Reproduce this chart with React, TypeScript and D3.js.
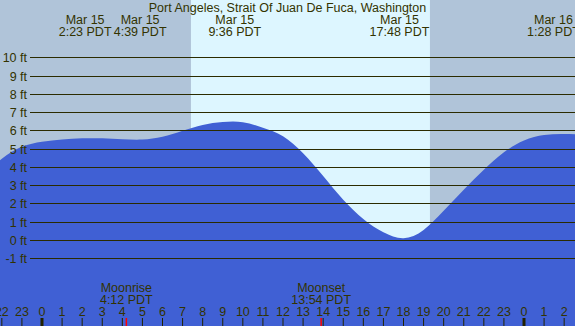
import React from "react";
import * as d3 from "d3";

// Tide heights (ft) read at each hour, hours counted from Mar 15 00:00 PDT
const tideHours = [-3, -2, -1, 0, 1, 2, 3, 4, 5, 6, 7, 8, 9, 10, 11, 12, 13, 14, 15, 16, 17, 18, 19, 20, 21, 22, 23, 24, 25, 26, 27];
const tideHeights = [3.5, 4.45, 5.1, 5.38, 5.5, 5.57, 5.57, 5.52, 5.5, 5.65, 5.98, 6.3, 6.46, 6.45, 6.15, 5.68, 4.75, 3.5, 2.2, 1.15, 0.42, 0.1, 0.55, 1.6, 2.75, 3.85, 4.8, 5.45, 5.75, 5.8, 5.78];

const eventTimes = [2 + 23 / 60, 4 + 39 / 60, 9 + 36 / 60, 17 + 48 / 60, 25 + 28 / 60];
const eventDates = ["Mar 15", "Mar 15", "Mar 15", "Mar 15", "Mar 16"];
const eventLabels = ["2:23 PDT", "4:39 PDT", "9:36 PDT", "17:48 PDT", "1:28 PDT"];

const moonTimes = [4 + 12 / 60, 13 + 54 / 60];
const moonNames = ["Moonrise", "Moonset"];
const moonLabels = ["4:12 PDT", "13:54 PDT"];

const sunrise = 7 + 25 / 60;
const sunset = 19 + 19 / 60;

const feetTicks = [-1, 0, 1, 2, 3, 4, 5, 6, 7, 8, 9, 10];
const hourTicks = d3.range(-2, 27);

const title = "Port Angeles, Strait Of Juan De Fuca, Washington";

const W = 575;
const H = 326;
const FONT = "'Liberation Sans', Arial, sans-serif";
const TXT = "#333300";

export default function App() {
  const x = d3.scaleLinear().domain([0, 24]).range([42, 524]);
  const y = d3.scaleLinear().domain([0, 10]).range([240, 57.4]);

  const pts = tideHours.map((h, i) => [h, tideHeights[i]] as [number, number]);
  const area = d3
    .area<[number, number]>()
    .x((d) => x(d[0]))
    .y0(H)
    .y1((d) => y(d[1]))
    .curve(d3.curveNatural);

  // label positions with simple collision nudge
  const lx = eventTimes.map((t) => x(t));
  const minGap = 55;
  for (let i = 1; i < lx.length; i++) {
    const gap = lx[i] - lx[i - 1];
    if (gap < minGap) {
      const push = (minGap - gap) / 2;
      lx[i - 1] -= push;
      lx[i] += push;
    }
  }

  return (
    <svg
      width={W}
      height={H}
      style={{ position: "absolute", left: 0, top: 0, display: "block" }}
      fontFamily={FONT}
    >
      <rect x={0} y={0} width={W} height={H} fill="#b0c4d9" />
      <rect x={x(sunrise)} y={0} width={x(sunset) - x(sunrise)} height={H} fill="#ddf6ff" />
      <path d={area(pts) || ""} fill="#4060d4" />
      {feetTicks.map((f) => (
        <g key={f}>
          <line
            x1={30}
            x2={W}
            y1={Math.round(y(f)) + 0.5}
            y2={Math.round(y(f)) + 0.5}
            stroke="#2b2b00"
            strokeWidth={1}
          />
          <text
            x={27}
            y={Math.round(y(f)) + 0.5}
            dy="0.35em"
            textAnchor="end"
            fontSize={12.5}
            fill={TXT}
          >
            {f} ft
          </text>
        </g>
      ))}
      <text x={W / 2} y={12} textAnchor="middle" fontSize={12.5} fill={TXT}>
        {title}
      </text>
      {eventTimes.map((t, i) => (
        <g key={i}>
          <text x={lx[i]} y={24} textAnchor="middle" fontSize={12.5} fill={TXT}>
            {eventDates[i]}
          </text>
          <text x={lx[i]} y={36} textAnchor="middle" fontSize={12.5} fill={TXT}>
            {eventLabels[i]}
          </text>
        </g>
      ))}
      {moonTimes.map((t, i) => (
        <g key={i}>
          <text x={x(t)} y={292} textAnchor="middle" fontSize={12.5} fill={TXT}>
            {moonNames[i]}
          </text>
          <text x={x(t)} y={304} textAnchor="middle" fontSize={12.5} fill={TXT}>
            {moonLabels[i]}
          </text>
          <line x1={x(t)} x2={x(t)} y1={318} y2={H} stroke="#ff0000" strokeWidth={1.5} />
        </g>
      ))}
      {hourTicks.map((h) => {
        const hh = ((h % 24) + 24) % 24;
        return (
          <g key={h}>
            <text x={x(h)} y={316} textAnchor="middle" fontSize={12.5} fill={TXT}>
              {hh}
            </text>
            <line
              x1={x(h)}
              x2={x(h)}
              y1={318}
              y2={H}
              stroke="#222200"
              strokeWidth={hh === 0 ? 3 : 1}
            />
          </g>
        );
      })}
    </svg>
  );
}
